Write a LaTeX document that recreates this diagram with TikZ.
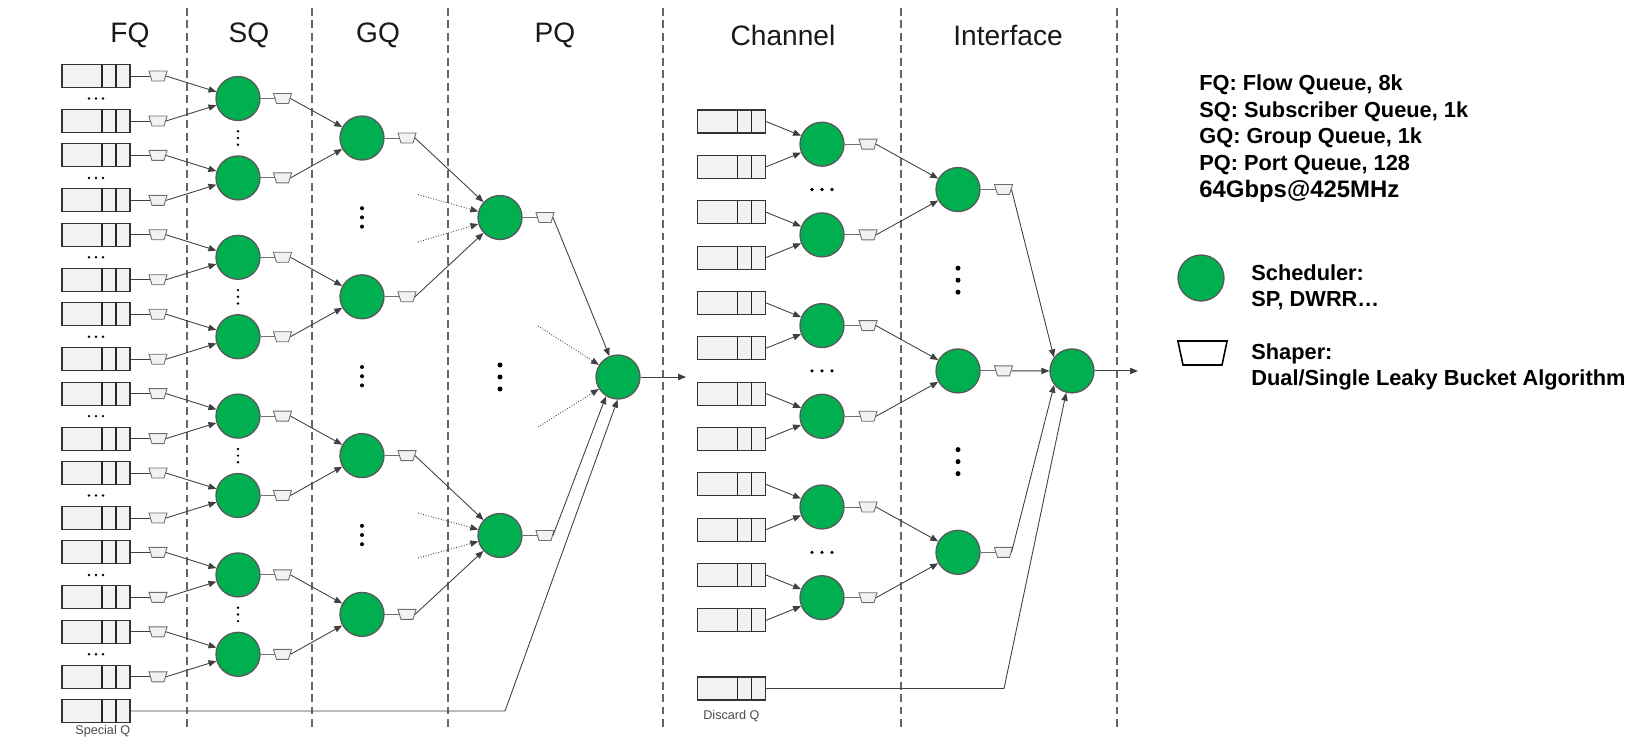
\documentclass[tikz,border=0pt]{standalone}
\usepackage{fontspec}
\setmainfont{Liberation Sans}
\usetikzlibrary{arrows.meta,shapes.geometric}
\definecolor{schedgreen}{RGB}{0,176,80}
\definecolor{schedrim}{RGB}{89,89,89}
\definecolor{qfill}{RGB}{242,242,242}
\definecolor{shaperrim}{RGB}{110,110,110}

\begin{document}
\begin{tikzpicture}[x=0.02cm,y=-0.02cm,
    sched/.style={circle,draw=schedrim,fill=schedgreen,line width=0.75pt,minimum size=0.88cm,inner sep=0pt},
    shaper/.style={trapezium,shape border rotate=180,trapezium angle=73,draw=shaperrim,fill=qfill,line width=0.5pt,inner xsep=0.12cm,inner ysep=0.1cm},
    queue/.style={rectangle,draw=black!80,fill=qfill,line width=0.6pt,minimum width=1.36cm,minimum height=0.46cm,inner sep=0pt,
      path picture={\foreach \o in {0.12,0.40}{\draw[line width=0.9pt,black!85] ([xshift=\o cm]path picture bounding box.north) -- ([xshift=\o cm]path picture bounding box.south);}}},
    feed/.style={line width=0.5pt,draw=black!75},
    flow/.style={feed,-{Triangle[length=4.5pt,width=3.6pt]}},
    hint/.style={flow,densely dotted},
    sep/.style={dash pattern=on 4.5pt off 2.6pt,line width=0.7pt,draw=black!60},
    head/.style={font=\fontsize{16}{19}\selectfont,text=black!90},
    tag/.style={font=\fontsize{7.2}{8}\selectfont,text=black!70,anchor=west,inner sep=0pt},
    key/.style={font=\bfseries\fontsize{12.4}{14.8}\selectfont,anchor=west,inner sep=0pt,align=left}]

\useasboundingbox (0,0) rectangle (1642,738);

\foreach \x in {187,312,448,663,901,1117}
  \draw[sep] (\x,8) -- (\x,728);

\node[head] (hfq) at (130,35) {FQ};
\node[head] (hsq) at (249,35) {SQ};
\node[head] (hgq) at (378,35) {GQ};
\node[head] (hpq) at (555,35) {PQ};
\node[head] (hch) at (783,35) {Channel};
\node[head] (hif) at (1008,35) {Interface};

\foreach \k in {0,...,7}{
  \pgfmathsetmacro{\ya}{76+79.4*\k}
  \pgfmathsetmacro{\yb}{\ya+45}
  \pgfmathsetmacro{\ym}{\ya+22.5}
  \node[queue] (fqa\k) at (96,\ya) {};
  \node[queue] (fqb\k) at (96,\yb) {};
  \node[shaper] (fsa\k) at (158,\ya) {};
  \node[shaper] (fsb\k) at (158,\yb) {};
  \node[sched] (sq\k) at (238,\ym) {};
  \node[shaper] (ss\k) at (282.5,\ym) {};
  \foreach \d in {-7,0,7} \fill ({96+\d},\ym) circle (0.027cm);
  \draw[feed] (fqa\k.east) -- (fsa\k.west);
  \draw[feed] (fqb\k.east) -- (fsb\k.west);
  \draw[flow] (fsa\k.east) -- (sq\k);
  \draw[flow] (fsb\k.east) -- (sq\k);
  \draw[feed,draw=shaperrim] (sq\k.east) -- (ss\k.west);
}

\foreach \j in {0,...,3}{
  \pgfmathtruncatemacro{\ka}{2*\j}
  \pgfmathtruncatemacro{\kb}{2*\j+1}
  \pgfmathsetmacro{\yg}{138+158.8*\j}
  \node[sched] (gq\j) at (362,\yg) {};
  \node[shaper] (gs\j) at (407,\yg) {};
  \draw[flow] (ss\ka.east) -- (gq\j);
  \draw[flow] (ss\kb.east) -- (gq\j);
  \draw[feed,draw=shaperrim] (gq\j.east) -- (gs\j.west);
  \foreach \d in {-6.7,0,6.7} \fill (238,{\yg+\d}) circle (0.027cm);
}
\foreach \j in {0,1,2}
  \foreach \d in {-9.2,0,9.2} \fill (362,{217.4+158.8*\j+\d}) circle (0.04cm);

\node[sched] (pq0) at (500,217.5) {};
\node[sched] (pq1) at (500,535.5) {};
\node[shaper] (ps0) at (545,217.5) {};
\node[shaper] (ps1) at (545,535.5) {};
\draw[flow] (gs0.east) -- (pq0);
\draw[flow] (gs1.east) -- (pq0);
\draw[flow] (gs2.east) -- (pq1);
\draw[flow] (gs3.east) -- (pq1);
\draw[feed,draw=shaperrim] (pq0.east) -- (ps0.west);
\draw[feed,draw=shaperrim] (pq1.east) -- (ps1.west);
\coordinate (pqh0a) at (418,194.5);
\coordinate (pqh0b) at (418,242);
\coordinate (pqh1a) at (418,513);
\coordinate (pqh1b) at (418,558);
\draw[hint] (pqh0a) -- (pq0);
\draw[hint] (pqh0b) -- (pq0);
\draw[hint] (pqh1a) -- (pq1);
\draw[hint] (pqh1b) -- (pq1);
\foreach \d in {-12,0,12} \fill (500,{377+\d}) circle (0.05cm);

\node[sched] (fin) at (618,377) {};
\draw[flow] (ps0.east) -- (fin);
\draw[flow] (ps1.east) -- (fin.238);
\coordinate (fh0) at (538,326);
\coordinate (fh1) at (538,427);
\draw[hint] (fh0) -- (fin);
\draw[hint] (fh1) -- (fin);
\coordinate (out0) at (686,377);
\draw[flow] (fin.east) -- (out0);

\node[queue] (spq) at (96,711) {};
\node[tag] (spqtag) at (75,731) {Special Q};
\coordinate (spbend) at (505,711);
\draw[flow] (spq.east) -- (spbend) -- (fin.269);

\foreach \i in {0,...,11}{
  \pgfmathsetmacro{\yq}{121.5+45.35*\i}
  \node[queue] (cq\i) at (731.5,\yq) {};
}
\foreach \c in {0,...,5}{
  \pgfmathsetmacro{\yc}{121.5+45.35*(2*\c+0.5)}
  \pgfmathtruncatemacro{\qa}{2*\c}
  \pgfmathtruncatemacro{\qb}{2*\c+1}
  \node[sched] (ch\c) at (822,\yc) {};
  \node[shaper] (cs\c) at (868,\yc) {};
  \draw[flow] (cq\qa.east) -- (ch\c);
  \draw[flow] (cq\qb.east) -- (ch\c);
  \draw[feed,draw=shaperrim] (ch\c.east) -- (cs\c.west);
}
\foreach \g in {0,1,2}{
  \pgfmathsetmacro{\yi}{121.5+45.35*(4*\g+1.5)}
  \pgfmathtruncatemacro{\ca}{2*\g}
  \pgfmathtruncatemacro{\cb}{2*\g+1}
  \node[sched] (if\g) at (958,\yi) {};
  \node[shaper] (is\g) at (1003.5,\yi) {};
  \draw[flow] (cs\ca.east) -- (if\g);
  \draw[flow] (cs\cb.east) -- (if\g);
  \draw[feed,draw=shaperrim] (if\g.east) -- (is\g.west);
  \foreach \d in {-10,0,10} \fill ({822+\d},\yi) circle (0.036cm);
}
\foreach \yd in {280.2,461.6}
  \foreach \d in {-12,0,12} \fill (958,{\yd+\d}) circle (0.05cm);

\node[sched] (fin2) at (1072,370.9) {};
\draw[flow] (is0.east) -- (fin2.143);
\draw[flow] (is1.east) -- (fin2.west);
\draw[flow] (is2.east) -- (fin2.218);
\coordinate (out1) at (1138,370.9);
\draw[flow] (fin2.east) -- (out1);

\node[queue] (dq) at (731.5,688.5) {};
\node[tag] (dqtag) at (703,716) {Discard Q};
\coordinate (dqbend) at (1004,688.5);
\draw[flow] (dq.east) -- (dqbend) -- (fin2.255);

\node[key] (kfq) at (1199,85) {FQ: Flow Queue, 8k};
\node[key] (ksq) at (1199,111.7) {SQ: Subscriber Queue, 1k};
\node[key] (kgq) at (1199,138.3) {GQ: Group Queue, 1k};
\node[key] (kpq) at (1199,165) {PQ: Port Queue, 128};
\node[key,font=\bfseries\fontsize{13.6}{16}\selectfont] (krate) at (1199,191.7) {64Gbps@425MHz};
\node[sched,minimum size=0.92cm] (ksched) at (1201,278) {};
\node[key] (kschedtxt) at (1251,287.5) {Scheduler:\\SP, DWRR…};
\node[shaper,draw=black,fill=white,line width=0.9pt,inner xsep=0.39cm,inner ysep=0.24cm,trapezium angle=78] (kshaper) at (1202.5,353) {};
\node[key] (kshapertxt) at (1251,366.5) {Shaper:\\Dual/Single Leaky Bucket Algorithm};

\end{tikzpicture}
\end{document}
